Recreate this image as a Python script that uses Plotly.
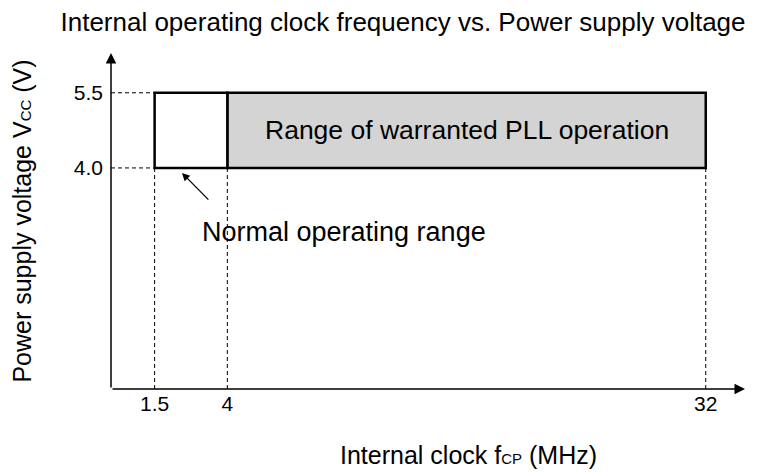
import plotly.graph_objects as go

# Data (schematic operating ranges)
freq_labels = ["1.5", "4", "32"]
freq_mhz = [1.5, 4, 32]
volt_labels = ["4.0", "5.5"]
volt_v = [4.0, 5.5]
normal_range = {"f": [1.5, 4], "v": [4.0, 5.5]}
pll_range = {"f": [4, 32], "v": [4.0, 5.5]}

# Broken (schematic) scales
def xpos(f):
    return f if f <= 4 else 4 + (f - 4) * 0.5875

def ypos(v):
    return v if v <= 4 else 4 + (v - 4) * 0.907

XMAX = 21.8
YMAX = 6.08
FONT = "Liberation Sans, Arial, sans-serif"
SMALL = "<span style='font-size:15px'>{}</span>"
OFF = 8  # page body margin
W, H = 757 - OFF, 474 - OFF
ML, MT, MB, MR = 111 - OFF, 53 - OFF, 85, 12
PW, PH = W - ML - MR, H - MT - MB

fig = go.Figure()

shapes = []
for f in freq_mhz:
    shapes.append(dict(type="line", x0=xpos(f), x1=xpos(f), y0=0, y1=ypos(volt_v[0]),
                       line=dict(color="black", width=1, dash="4px,3px")))
for v in volt_v:
    shapes.append(dict(type="line", x0=0, x1=xpos(freq_mhz[0]), y0=ypos(v), y1=ypos(v),
                       line=dict(color="black", width=1, dash="4px,3px")))
shapes.append(dict(type="rect", x0=xpos(pll_range["f"][0]), x1=xpos(pll_range["f"][1]),
                   y0=ypos(pll_range["v"][0]), y1=ypos(pll_range["v"][1]),
                   fillcolor="#d4d4d4", line=dict(color="black", width=2.5)))
shapes.append(dict(type="rect", x0=xpos(normal_range["f"][0]), x1=xpos(normal_range["f"][1]),
                   y0=ypos(normal_range["v"][0]), y1=ypos(normal_range["v"][1]),
                   fillcolor="white", line=dict(color="black", width=2.5)))

annotations = []
annotations.append(dict(x=XMAX, y=0, ax=0, ay=0, xref="x", yref="y", axref="x", ayref="y",
                        text="", showarrow=True, arrowhead=2, arrowsize=1.4, arrowwidth=1.5,
                        arrowcolor="black", standoff=0, startstandoff=0))
annotations.append(dict(x=0, y=YMAX, ax=0, ay=0, xref="x", yref="y", axref="x", ayref="y",
                        text="", showarrow=True, arrowhead=2, arrowsize=1.4, arrowwidth=1.5,
                        arrowcolor="black", standoff=0, startstandoff=0))
annotations.append(dict(x=(xpos(pll_range["f"][0]) + xpos(pll_range["f"][1])) / 2,
                        y=(ypos(pll_range["v"][0]) + ypos(pll_range["v"][1])) / 2,
                        xref="x", yref="y", text="Range of warranted PLL operation",
                        showarrow=False, font=dict(size=26.5, color="black", family=FONT)))
annotations.append(dict(x=2.44, y=3.91, xref="x", yref="y", text="",
                        ax=3.40, ay=3.40, axref="x", ayref="y",
                        showarrow=True, arrowhead=2, arrowsize=1.2, arrowwidth=1.3,
                        arrowcolor="black", standoff=0, startstandoff=0))
annotations.append(dict(x=3.06, y=2.84, xref="x", yref="y", xanchor="left", yanchor="middle",
                        text="Normal operating range", showarrow=False,
                        font=dict(size=27, color="black", family=FONT)))
# x-axis title
annotations.append(dict(x=(468 - OFF - ML) / PW, y=-(455 - OFF - (MT + PH)) / PH,
                        xref="paper", yref="paper", xanchor="center", yanchor="middle",
                        text="Internal clock f" + SMALL.format("CP") + " (MHz)",
                        showarrow=False, font=dict(size=25, color="black", family=FONT)))

fig.update_layout(
    width=W, height=H,
    margin=dict(l=ML, r=MR, t=MT, b=MB),
    paper_bgcolor="white", plot_bgcolor="white",
    showlegend=False,
    shapes=shapes, annotations=annotations,
    title=dict(text="Internal operating clock frequency vs. Power supply voltage",
               x=(403 - OFF) / W, xanchor="center", xref="container",
               y=1 - (22 - OFF) / H, yanchor="middle", yref="container",
               font=dict(size=26, color="black", family=FONT)),
    font=dict(family=FONT, color="black"),
    xaxis=dict(range=[0, XMAX], showgrid=False, zeroline=False, showline=False,
               tickvals=[xpos(f) for f in freq_mhz], ticktext=freq_labels,
               ticks="", tickfont=dict(size=21), ticklabelstandoff=0, automargin=False),
    yaxis=dict(range=[0, YMAX], showgrid=False, zeroline=False, showline=False,
               tickvals=[ypos(v) for v in volt_v], ticktext=volt_labels,
               ticks="", tickfont=dict(size=21), ticklabelstandoff=7, automargin=False,
               title=dict(text="Power supply voltage V" + SMALL.format("CC") + " (V)",
                          font=dict(size=25), standoff=36)),
)

fig.write_html("out.html")
